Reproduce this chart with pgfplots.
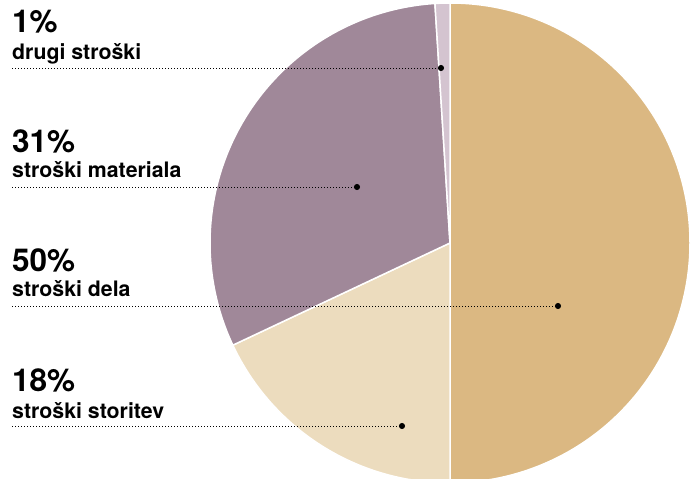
\documentclass[border=0pt]{standalone}
\usepackage{pgfplots}
\pgfplotsset{compat=1.18}
\usepackage{fontspec}
\setmainfont{TeX Gyre Heros}
\definecolor{cTan}{HTML}{DBB882}
\definecolor{cBeige}{HTML}{ECDCBE}
\definecolor{cMauve}{HTML}{A08899}
\definecolor{cLav}{HTML}{D4C4D0}
% shares in percent
\def\vDela{50}
\def\vStoritev{18}
\def\vMateriala{31}
\def\vDrugi{1}
\begin{document}
\begin{tikzpicture}
\begin{axis}[
  scale only axis, width=697pt, height=479pt,
  xmin=0, xmax=697, ymin=0, ymax=479,
  hide axis, clip=true,
]
% pie centre (450,236), radius 240
\pgfmathsetmacro{\aA}{90}
\pgfmathsetmacro{\aB}{\aA-\vDela*3.6}
\pgfmathsetmacro{\aC}{\aB-\vStoritev*3.6}
\pgfmathsetmacro{\aD}{\aC-\vMateriala*3.6}
\pgfmathsetmacro{\aE}{\aD-\vDrugi*3.6}
\fill[cTan, draw=white, line width=1.5pt] (axis cs:450,236) -- ++(\aA:240) arc[start angle=\aA, end angle=\aB, radius=240] -- cycle;
\fill[cBeige, draw=white, line width=1.5pt] (axis cs:450,236) -- ++(\aB:240) arc[start angle=\aB, end angle=\aC, radius=240] -- cycle;
\fill[cMauve, draw=white, line width=1.5pt] (axis cs:450,236) -- ++(\aC:240) arc[start angle=\aC, end angle=\aD, radius=240] -- cycle;
\fill[cLav, draw=white, line width=1.5pt] (axis cs:450,236) -- ++(\aD:240) arc[start angle=\aD, end angle=\aE, radius=240] -- cycle;
% leader lines
\addplot[black, line width=0.8pt, dash pattern=on 0.8pt off 2.2pt, mark=*, mark size=2.6pt, mark indices={2}, mark options={solid}] coordinates {(12,411) (441,411)};
\addplot[black, line width=0.8pt, dash pattern=on 0.8pt off 2.2pt, mark=*, mark size=2.6pt, mark indices={2}, mark options={solid}] coordinates {(12,292) (357,292)};
\addplot[black, line width=0.8pt, dash pattern=on 0.8pt off 2.2pt, mark=*, mark size=2.6pt, mark indices={2}, mark options={solid}] coordinates {(12,173) (558,173)};
\addplot[black, line width=0.8pt, dash pattern=on 0.8pt off 2.2pt, mark=*, mark size=2.6pt, mark indices={2}, mark options={solid}] coordinates {(12,53) (402,53)};
% labels
\tikzset{pct/.style={anchor=base west, inner sep=0pt, font=\fontsize{31.5}{33}\selectfont\bfseries},
         lab/.style={anchor=base west, inner sep=0pt, font=\fontsize{21.3}{23}\selectfont\bfseries}}
\node[pct] at (axis cs:12,446) {1\%};
\node[lab] at (axis cs:12,419) {drugi stroški};
\node[pct] at (axis cs:12,326) {31\%};
\node[lab] at (axis cs:12,301) {stroški materiala};
\node[pct] at (axis cs:12,207) {50\%};
\node[lab] at (axis cs:12,182) {stroški dela};
\node[pct] at (axis cs:12,87) {18\%};
\node[lab] at (axis cs:12,60) {stroški storitev};
\end{axis}
\pgfresetboundingbox
\useasboundingbox (0,0) rectangle (697pt,479pt);
\end{tikzpicture}
\end{document}
